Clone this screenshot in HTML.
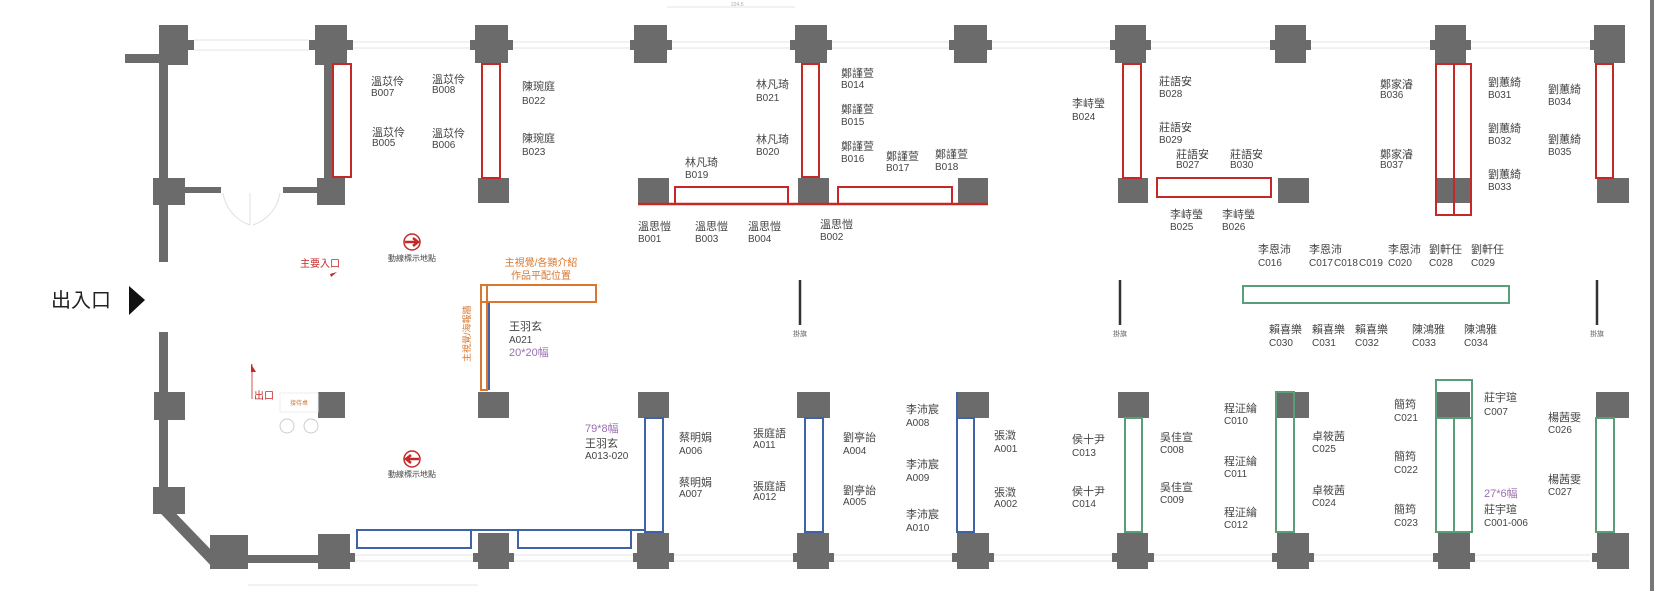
<!DOCTYPE html>
<html><head><meta charset="utf-8"><style>
html,body{margin:0;padding:0;background:#fff;}
svg{display:block;font-family:"Liberation Sans","Noto Sans CJK TC",sans-serif;}
.p{fill:#6b6b6b}
.n{font-size:11px;fill:#444}
.c{font-size:10px;fill:#444}
.d{font-size:5px;fill:#aaa}
.w{stroke:#e6e6e6;stroke-width:1;fill:none}
</style></head><body>
<svg width="1654" height="591" viewBox="0 0 1654 591" xmlns="http://www.w3.org/2000/svg">
<!-- faint window lines -->
<g class="w">
<line x1="194" y1="40" x2="309" y2="40"/><line x1="194" y1="50" x2="309" y2="50"/>
<line x1="353" y1="42" x2="1590" y2="42"/><line x1="353" y1="48" x2="1590" y2="48"/>
<line x1="355" y1="555" x2="1590" y2="555"/><line x1="355" y1="561" x2="1590" y2="561"/>
<line x1="667" y1="7" x2="795" y2="7"/><line x1="248" y1="585" x2="478" y2="585"/>
</g>
<text x="731" y="6" class="d">224.5</text>
<!-- left wall -->
<rect class="p" x="159" y="25" width="9" height="237"/>
<rect class="p" x="125" y="54" width="34" height="9"/>
<rect class="p" x="159" y="25" width="29" height="40"/><rect class="p" x="188" y="40" width="6" height="10"/>
<rect class="p" x="153" y="178" width="32" height="27"/><rect class="p" x="185" y="187" width="36" height="6"/>
<rect class="p" x="283" y="187" width="34" height="6"/>
<path d="M223 193 A40 40 0 0 0 250 225 M280 193 A40 40 0 0 1 253 225 M250 193 V225" stroke="#e0e0e0" fill="none"/>
<rect class="p" x="159" y="332" width="9" height="181"/>
<rect class="p" x="154" y="392" width="31" height="28"/>
<rect class="p" x="153" y="487" width="32" height="27"/>
<path d="M165 510 L218 565" stroke="#6b6b6b" stroke-width="11"/>
<rect class="p" x="210" y="535" width="38" height="34"/>
<rect class="p" x="248" y="555" width="70" height="8"/>
<rect class="p" x="318" y="534" width="32" height="35"/><rect class="p" x="350" y="553" width="5" height="9"/>
<!-- top row pillars -->
<g class="p">
<rect x="315" y="25" width="32" height="40"/><rect x="309" y="40" width="44" height="10"/>
<rect x="324" y="65" width="9" height="113"/>
<rect x="317" y="178" width="28" height="27"/>
<rect x="475" y="25" width="33" height="38"/><rect x="470" y="40" width="43" height="10"/>
<rect x="478" y="178" width="31" height="25"/>
<rect x="634" y="25" width="33" height="38"/><rect x="630" y="40" width="42" height="10"/>
<rect x="638" y="178" width="31" height="25"/>
<rect x="795" y="25" width="32" height="38"/><rect x="790" y="40" width="42" height="10"/>
<rect x="798" y="178" width="31" height="25"/>
<rect x="954" y="25" width="33" height="38"/><rect x="949" y="40" width="43" height="10"/>
<rect x="958" y="178" width="30" height="25"/>
<rect x="1115" y="25" width="31" height="38"/><rect x="1110" y="40" width="41" height="10"/>
<rect x="1118" y="178" width="30" height="25"/>
<rect x="1275" y="25" width="31" height="38"/><rect x="1270" y="40" width="41" height="10"/>
<rect x="1278" y="178" width="31" height="25"/>
<rect x="1435" y="25" width="31" height="38"/><rect x="1430" y="40" width="41" height="10"/>
<rect x="1437" y="178" width="33" height="25"/>
<rect x="1594" y="25" width="31" height="38"/><rect x="1590" y="40" width="8" height="10"/>
<rect x="1597" y="178" width="32" height="25"/>
</g>
<!-- red booths -->
<g fill="none" stroke="#c62828" stroke-width="2">
<rect x="333" y="64" width="18" height="113"/>
<rect x="482" y="64" width="18" height="114"/>
<rect x="802" y="64" width="17" height="113"/>
<rect x="675" y="187" width="113" height="17"/>
<rect x="838" y="187" width="114" height="17"/>
<rect x="1123" y="64" width="18" height="114"/>
<rect x="1157" y="178" width="114" height="19"/>
<rect x="1436" y="64" width="18" height="151"/><rect x="1454" y="64" width="17" height="151"/>
<rect x="1596" y="64" width="17" height="114"/>
</g>
<line x1="638" y1="204" x2="988" y2="204" stroke="#c62828" stroke-width="2.5"/>
<!-- bottom row pillars -->
<g class="p">
<rect x="318" y="392" width="27" height="26"/>
<rect x="478" y="392" width="31" height="26"/><rect x="478" y="533" width="31" height="36"/><rect x="473" y="553" width="41" height="9"/>
<rect x="638" y="392" width="31" height="26"/><rect x="637" y="533" width="32" height="36"/><rect x="633" y="553" width="41" height="9"/>
<rect x="797" y="392" width="33" height="26"/><rect x="797" y="533" width="32" height="36"/><rect x="793" y="553" width="41" height="9"/>
<rect x="957" y="392" width="32" height="26"/><rect x="957" y="533" width="32" height="36"/><rect x="952" y="553" width="42" height="9"/>
<rect x="1118" y="392" width="31" height="26"/><rect x="1117" y="533" width="31" height="36"/><rect x="1112" y="553" width="42" height="9"/>
<rect x="1276" y="392" width="33" height="26"/><rect x="1277" y="533" width="32" height="36"/><rect x="1272" y="553" width="42" height="9"/>
<rect x="1437" y="392" width="33" height="26"/><rect x="1438" y="532" width="32" height="37"/><rect x="1433" y="553" width="42" height="9"/>
<rect x="1596" y="392" width="33" height="26"/><rect x="1597" y="533" width="32" height="36"/><rect x="1592" y="553" width="8" height="9"/>
</g>
<!-- blue booths -->
<g fill="none" stroke="#3f63a8" stroke-width="2">
<rect x="645" y="418" width="18" height="114"/>
<rect x="357" y="530" width="114" height="18"/>
<rect x="518" y="530" width="113" height="18"/>
<polyline points="357,530 645,530"/>
<rect x="805" y="418" width="18" height="114"/>
<rect x="957" y="418" width="17" height="114"/><line x1="957" y1="392" x2="957" y2="418"/>
<polyline points="489,390 489,302 596,302"/>
</g>
<!-- orange -->
<g fill="none" stroke="#d9772e" stroke-width="2">
<rect x="481" y="285" width="115" height="17"/>
<rect x="481" y="285" width="6" height="105"/>
</g>
<text transform="translate(470,362) rotate(-90)" font-size="9" fill="#d9772e">主視覺/海報牆</text>
<text x="541" y="266" font-size="10" fill="#d9772e" text-anchor="middle">主視覺/各類介紹</text>
<text x="541" y="279" font-size="10" fill="#d9772e" text-anchor="middle">作品平配位置</text>
<!-- green -->
<g fill="none" stroke="#5a9e78" stroke-width="2">
<rect x="1243" y="286" width="266" height="17"/>
<rect x="1125" y="418" width="17" height="114"/>
<rect x="1276" y="392" width="18" height="140"/>
<rect x="1436" y="380" width="36" height="152"/><line x1="1454" y1="418" x2="1454" y2="532"/><line x1="1436" y1="418" x2="1472" y2="418"/>
<rect x="1596" y="418" width="18" height="114"/>
</g>
<!-- flags -->
<g stroke="#333" stroke-width="2.5">
<line x1="800" y1="280" x2="800" y2="325"/><line x1="1120" y1="280" x2="1120" y2="325"/><line x1="1597" y1="280" x2="1597" y2="325"/>
</g>
<g font-size="7" fill="#666" text-anchor="middle">
<text x="800" y="336">掛旗</text><text x="1120" y="336">掛旗</text><text x="1597" y="336">掛旗</text>
</g>
<!-- right frame -->
<rect x="1650" y="0" width="4" height="591" fill="#777"/>
<!-- entrance -->
<text x="51" y="307" font-size="20" fill="#222">出入口</text>
<polygon points="129,286 145,300 129,315" fill="#111"/>
<!-- arrows -->
<circle cx="412" cy="242" r="8" fill="#fff" stroke="#c62828" stroke-width="1.5"/>
<path d="M405 242 H416 M413 238 L418 242 L413 246" stroke="#c62828" stroke-width="2.5" fill="none"/>
<text x="412" y="261" font-size="8" fill="#444" text-anchor="middle">動線標示地點</text>
<circle cx="412" cy="459" r="8" fill="#fff" stroke="#c62828" stroke-width="1.5"/>
<path d="M419 459 H408 M411 455 L406 459 L411 463" stroke="#c62828" stroke-width="2.5" fill="none"/>
<text x="412" y="477" font-size="8" fill="#444" text-anchor="middle">動線標示地點</text>
<text x="300" y="267" font-size="10" fill="#c62828">主要入口</text>
<polygon points="330,274 337,272 331,277" fill="#c62828"/>
<line x1="252" y1="364" x2="252" y2="399" stroke="#c62828" stroke-width="0.8"/>
<polygon points="251,364 256,372 251,372" fill="#c62828"/>
<text x="254" y="399" font-size="10" fill="#c62828">出口</text>
<rect x="280" y="393" width="38" height="19" fill="none" stroke="#eee"/>
<text x="299" y="405" font-size="6" fill="#d9772e" text-anchor="middle">接待桌</text>
<circle cx="287" cy="426" r="7" fill="none" stroke="#ccc"/><circle cx="311" cy="426" r="7" fill="none" stroke="#ccc"/>
<!-- labels -->
<g>
<text x="371" y="85" class="n">溫苡伶</text><text x="371" y="96" class="c">B007</text>
<text x="372" y="136" class="n">溫苡伶</text><text x="372" y="146" class="c">B005</text>
<text x="432" y="83" class="n">溫苡伶</text><text x="432" y="93" class="c">B008</text>
<text x="432" y="137" class="n">溫苡伶</text><text x="432" y="148" class="c">B006</text>
<text x="522" y="90" class="n">陳琬庭</text><text x="522" y="104" class="c">B022</text>
<text x="522" y="142" class="n">陳琬庭</text><text x="522" y="155" class="c">B023</text>
<text x="756" y="88" class="n">林凡琦</text><text x="756" y="101" class="c">B021</text>
<text x="756" y="143" class="n">林凡琦</text><text x="756" y="155" class="c">B020</text>
<text x="685" y="166" class="n">林凡琦</text><text x="685" y="178" class="c">B019</text>
<text x="841" y="77" class="n">鄭謹萱</text><text x="841" y="88" class="c">B014</text>
<text x="841" y="113" class="n">鄭謹萱</text><text x="841" y="125" class="c">B015</text>
<text x="841" y="150" class="n">鄭謹萱</text><text x="841" y="162" class="c">B016</text>
<text x="886" y="160" class="n">鄭謹萱</text><text x="886" y="171" class="c">B017</text>
<text x="935" y="158" class="n">鄭謹萱</text><text x="935" y="170" class="c">B018</text>
<text x="638" y="230" class="n">溫思愷</text><text x="638" y="242" class="c">B001</text>
<text x="695" y="230" class="n">溫思愷</text><text x="695" y="242" class="c">B003</text>
<text x="748" y="230" class="n">溫思愷</text><text x="748" y="242" class="c">B004</text>
<text x="820" y="228" class="n">溫思愷</text><text x="820" y="240" class="c">B002</text>
<text x="1072" y="107" class="n">李峙瑩</text><text x="1072" y="120" class="c">B024</text>
<text x="1159" y="85" class="n">莊語安</text><text x="1159" y="97" class="c">B028</text>
<text x="1159" y="131" class="n">莊語安</text><text x="1159" y="143" class="c">B029</text>
<text x="1176" y="158" class="n">莊語安</text><text x="1176" y="168" class="c">B027</text>
<text x="1230" y="158" class="n">莊語安</text><text x="1230" y="168" class="c">B030</text>
<text x="1170" y="218" class="n">李峙瑩</text><text x="1170" y="230" class="c">B025</text>
<text x="1222" y="218" class="n">李峙瑩</text><text x="1222" y="230" class="c">B026</text>
<text x="1380" y="88" class="n">鄭家濬</text><text x="1380" y="98" class="c">B036</text>
<text x="1380" y="158" class="n">鄭家濬</text><text x="1380" y="168" class="c">B037</text>
<text x="1488" y="86" class="n">劉蕙綺</text><text x="1488" y="98" class="c">B031</text>
<text x="1488" y="132" class="n">劉蕙綺</text><text x="1488" y="144" class="c">B032</text>
<text x="1488" y="178" class="n">劉蕙綺</text><text x="1488" y="190" class="c">B033</text>
<text x="1548" y="93" class="n">劉蕙綺</text><text x="1548" y="105" class="c">B034</text>
<text x="1548" y="143" class="n">劉蕙綺</text><text x="1548" y="155" class="c">B035</text>
<text x="1258" y="253" class="n">李恩沛</text><text x="1258" y="266" class="c">C016</text>
<text x="1309" y="253" class="n">李恩沛</text><text x="1309" y="266" class="c">C017</text>
<text x="1334" y="266" class="c">C018</text><text x="1359" y="266" class="c">C019</text>
<text x="1388" y="253" class="n">李恩沛</text><text x="1388" y="266" class="c">C020</text>
<text x="1429" y="253" class="n">劉軒任</text><text x="1429" y="266" class="c">C028</text>
<text x="1471" y="253" class="n">劉軒任</text><text x="1471" y="266" class="c">C029</text>
<text x="1269" y="333" class="n">賴喜樂</text><text x="1269" y="346" class="c">C030</text>
<text x="1312" y="333" class="n">賴喜樂</text><text x="1312" y="346" class="c">C031</text>
<text x="1355" y="333" class="n">賴喜樂</text><text x="1355" y="346" class="c">C032</text>
<text x="1412" y="333" class="n">陳鴻雅</text><text x="1412" y="346" class="c">C033</text>
<text x="1464" y="333" class="n">陳鴻雅</text><text x="1464" y="346" class="c">C034</text>
<text x="509" y="330" class="n">王羽玄</text><text x="509" y="343" class="c">A021</text>
<text x="509" y="356" font-size="11" fill="#9a6fb0">20*20幅</text>
<text x="585" y="432" font-size="11" fill="#9a6fb0">79*8幅</text>
<text x="585" y="447" class="n">王羽玄</text><text x="585" y="459" class="c">A013-020</text>
<text x="679" y="441" class="n">蔡明娟</text><text x="679" y="454" class="c">A006</text>
<text x="679" y="486" class="n">蔡明娟</text><text x="679" y="497" class="c">A007</text>
<text x="753" y="437" class="n">張庭語</text><text x="753" y="448" class="c">A011</text>
<text x="753" y="490" class="n">張庭語</text><text x="753" y="500" class="c">A012</text>
<text x="843" y="441" class="n">劉亭詒</text><text x="843" y="454" class="c">A004</text>
<text x="843" y="494" class="n">劉亭詒</text><text x="843" y="505" class="c">A005</text>
<text x="906" y="413" class="n">李沛宸</text><text x="906" y="426" class="c">A008</text>
<text x="906" y="468" class="n">李沛宸</text><text x="906" y="481" class="c">A009</text>
<text x="906" y="518" class="n">李沛宸</text><text x="906" y="531" class="c">A010</text>
<text x="994" y="439" class="n">張澂</text><text x="994" y="452" class="c">A001</text>
<text x="994" y="496" class="n">張澂</text><text x="994" y="507" class="c">A002</text>
<text x="1072" y="443" class="n">侯十尹</text><text x="1072" y="456" class="c">C013</text>
<text x="1072" y="495" class="n">侯十尹</text><text x="1072" y="507" class="c">C014</text>
<text x="1160" y="441" class="n">吳佳宣</text><text x="1160" y="453" class="c">C008</text>
<text x="1160" y="491" class="n">吳佳宣</text><text x="1160" y="503" class="c">C009</text>
<text x="1224" y="412" class="n">程泟綸</text><text x="1224" y="424" class="c">C010</text>
<text x="1224" y="465" class="n">程泟綸</text><text x="1224" y="477" class="c">C011</text>
<text x="1224" y="516" class="n">程泟綸</text><text x="1224" y="528" class="c">C012</text>
<text x="1312" y="440" class="n">卓筱茜</text><text x="1312" y="452" class="c">C025</text>
<text x="1312" y="494" class="n">卓筱茜</text><text x="1312" y="506" class="c">C024</text>
<text x="1394" y="408" class="n">簡筠</text><text x="1394" y="421" class="c">C021</text>
<text x="1394" y="460" class="n">簡筠</text><text x="1394" y="473" class="c">C022</text>
<text x="1394" y="513" class="n">簡筠</text><text x="1394" y="526" class="c">C023</text>
<text x="1484" y="401" class="n">莊宇瑄</text><text x="1484" y="415" class="c">C007</text>
<text x="1484" y="497" font-size="11" fill="#9a6fb0">27*6幅</text>
<text x="1484" y="513" class="n">莊宇瑄</text><text x="1484" y="526" class="c">C001-006</text>
<text x="1548" y="421" class="n">楊茜雯</text><text x="1548" y="433" class="c">C026</text>
<text x="1548" y="483" class="n">楊茜雯</text><text x="1548" y="495" class="c">C027</text>
</g>
</svg>
</body></html>
